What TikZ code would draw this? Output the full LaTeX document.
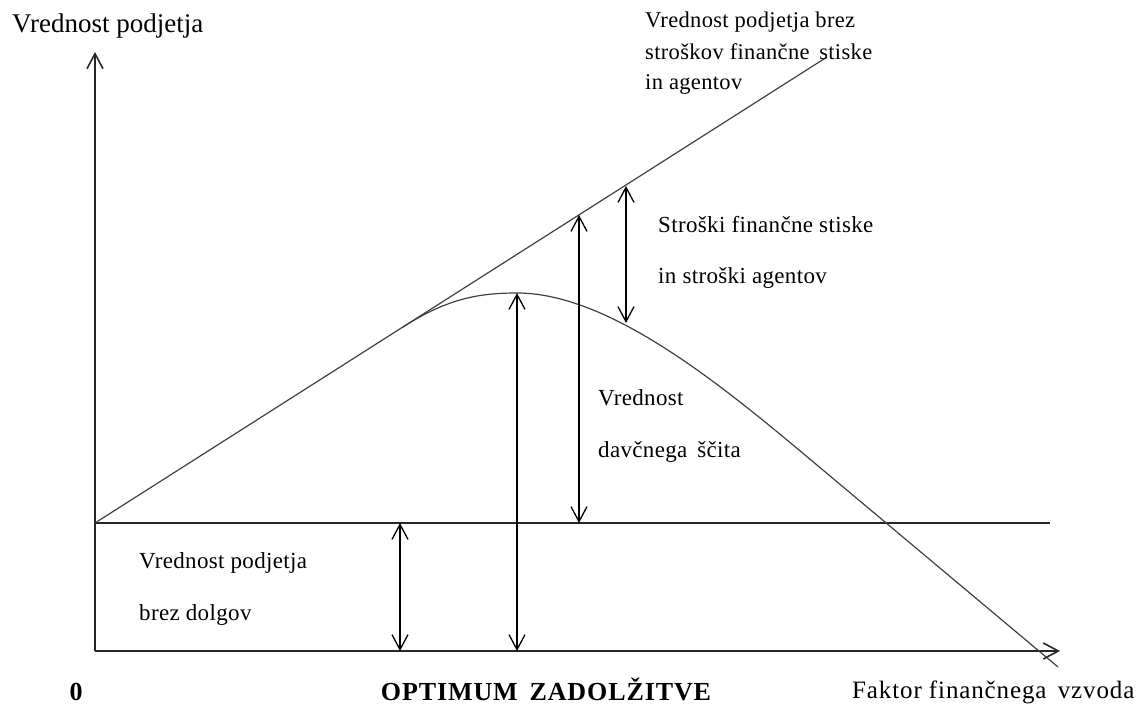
\documentclass[tikz,border=0pt]{standalone}
\usepackage{fontspec}
\setmainfont{Liberation Serif}
\newfontfamily\lblfont[LetterSpace=1.5]{Liberation Serif}
\newfontfamily\widefont[LetterSpace=3.5]{Liberation Serif}
\usetikzlibrary{arrows.meta}

\begin{document}
\begin{tikzpicture}[x=1pt,y=-1pt,
  barb/.tip={Straight Barb[length=15pt,width=16pt]},
  axis/.style={line width=1.6pt, draw=black!85, -barb},
  level/.style={line width=1.6pt, draw=black!85},
  trend/.style={line width=1.2pt, draw=black!75},
  gap/.style={line width=1.3pt, draw=black, barb-barb},
  lbl/.style={anchor=base west, inner sep=0pt, text=black,
    font=\lblfont\fontsize{23}{26}\selectfont},
  toplbl/.style={lbl, font=\lblfont\fontsize{22.5}{26}\selectfont},
  boldlbl/.style={anchor=base, inner sep=0pt, text=black,
    font=\widefont\bfseries\fontsize{26}{28}\selectfont}]

\useasboundingbox (0,0) rectangle (1147,706);

% axes and the debt-free value level
\coordinate (O)    at (95,651);
\coordinate (Ytop) at (95,52);
\coordinate (Xend) at (1060,651);
\coordinate (B0)   at (95,523);
\coordinate (Bend) at (1050,523);
\draw[axis] (O) -- (Ytop);
\draw[axis] (O) -- (Xend);
\draw[level] (B0) -- (Bend);

% value without distress and agency costs
\coordinate (Lend) at (827,57);
\draw[trend] (B0) -- (Lend);

% value with distress and agency costs
\coordinate (T)    at (403,327);
\coordinate (P)    at (517,293);
\coordinate (C2)   at (805,455);
\coordinate (Cend) at (1058,667);
\draw[trend] (T) .. controls (448,298) and (480,293) .. (P)
  .. controls (607,293) and (715,379.6) .. (C2) -- (Cend);

% measuring arrows
\coordinate (A1t) at (400,523); \coordinate (A1b) at (400,651);
\coordinate (A2t) at (517,293); \coordinate (A2b) at (517,651);
\coordinate (A3t) at (579,215); \coordinate (A3b) at (579,523);
\coordinate (A4t) at (626,186); \coordinate (A4b) at (626,323);
\draw[gap] (A1t) -- (A1b);
\draw[gap] (A2t) -- (A2b);
\draw[gap] (A3t) -- (A3b);
\draw[gap] (A4t) -- (A4b);

% labels
\node[anchor=base west, inner sep=0pt, font=\fontsize{27}{30}\selectfont]
  (ytitle) at (12,33) {Vrednost podjetja};
\node[toplbl] (tr1) at (645,28) {Vrednost podjetja brez};
\node[toplbl] (tr2) at (645,60) {stroškov finančne\, stiske};
\node[toplbl] (tr3) at (645,90) {in agentov};
\node[lbl] (cost1) at (658,232) {Stroški finančne stiske};
\node[lbl] (cost2) at (658,283) {in stroški agentov};
\node[lbl] (tax1) at (598,405) {Vrednost};
\node[lbl] (tax2) at (598,457) {davčnega\, ščita};
\node[lbl] (base1) at (139,568) {Vrednost podjetja};
\node[lbl] (base2) at (139,620) {brez dolgov};
\node[boldlbl] (zero) at (76,700) {0};
\node[boldlbl] (opt) at (546,700) {OPTIMUM\, ZADOLŽITVE};
\node[anchor=base west, inner sep=0pt, font=\widefont\fontsize{25}{28}\selectfont]
  (xtitle) at (852,698) {Faktor finančnega\, vzvoda};
\end{tikzpicture}
\end{document}
